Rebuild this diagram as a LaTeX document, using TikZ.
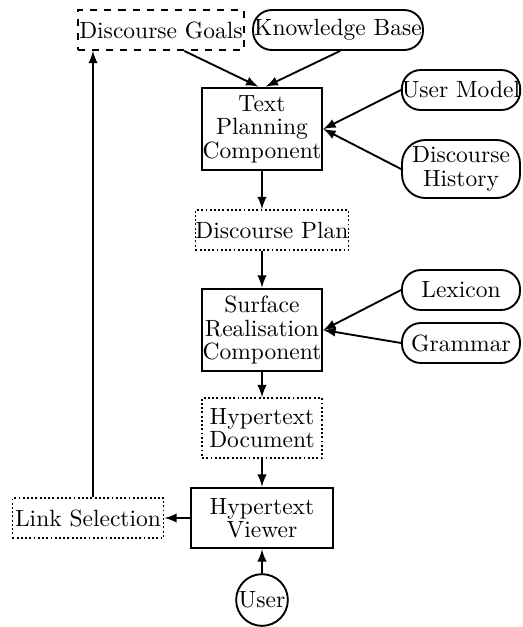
\documentclass[tikz,border=0pt]{standalone}
\usepackage{tikz}
\usetikzlibrary{arrows}
\usetikzlibrary{calc}

\begin{document}
\begin{tikzpicture}
		[x=0.4255pt, y=-0.4255pt, thick, >=latex,
		 font=\fontsize{10}{10}\selectfont,
		 comp/.style = {draw, rectangle, line width=1.2pt, inner sep=0pt, align=center},
		 data/.style = {draw, rectangle, densely dotted, inner sep=0pt, align=center},
		 res/.style = {draw, rectangle, rounded corners=8pt, inner sep=0pt, align=center}]
        \useasboundingbox (0,0) rectangle (523,627);

        \node[data, dashed, minimum width=70.6pt, minimum height=17pt] (goals) at (161,30) {Discourse Goals};
        \node[res, minimum width=72.3pt, minimum height=17pt] (kb) at (338,30) {Knowledge Base};
        \node[comp, minimum width=51pt, minimum height=34.9pt] (tp) at (262,129) {Text\\Planning\\Component};
        \node[res, minimum width=50.2pt, minimum height=17pt] (um) at (461,90) {User Model};
        \node[res, rounded corners=10pt, minimum width=50.2pt, minimum height=24.7pt] (dh) at (461,169) {Discourse\\History};
        \node[data, minimum width=60pt, minimum height=17pt] (plan) at (272,230) {Discourse Plan};
        \node[comp, minimum width=51pt, minimum height=34.9pt] (sr) at (262,330) {Surface\\Realisation\\Component};
        \node[res, minimum width=50.2pt, minimum height=17pt] (lex) at (461,290) {Lexicon};
        \node[res, minimum width=50.2pt, minimum height=17pt] (gram) at (461,343) {Grammar};
        \node[data, minimum width=51pt, minimum height=25.5pt] (hdoc) at (262,428) {Hypertext\\Document};
        \node[comp, minimum width=60.4pt, minimum height=25.5pt] (hv) at (262,518) {Hypertext\\Viewer};
        \node[data, minimum width=64.3pt, minimum height=17pt] (link) at (88,518) {Link Selection};
        \node[draw, circle, inner sep=0pt, minimum size=22pt] (user) at (262,600) {User};

        \coordinate (up) at ($(link.north)+(5,0)$);

        \draw[->] (goals.-42) -- (tp.95);
        \draw[->] (kb.-84) -- (tp.85);
        \draw[->] (um.west) -- (tp.east);
        \draw[->] (dh.west) -- (tp.east);
        \draw[->] (tp.south) -- (tp.south |- plan.north);
        \draw[->] (tp.south |- plan.south) -- (sr.north);
        \draw[->] (lex.west) -- (sr.east);
        \draw[->] (gram.west) -- (sr.east);
        \draw[->] (sr) -- (hdoc);
        \draw[->] (hdoc) -- (hv);
        \draw[->] (user) -- (hv);
        \draw[->] (hv) -- (link);
        \draw[->] (up) -- (up |- goals.south);
	\end{tikzpicture}
\end{document}
